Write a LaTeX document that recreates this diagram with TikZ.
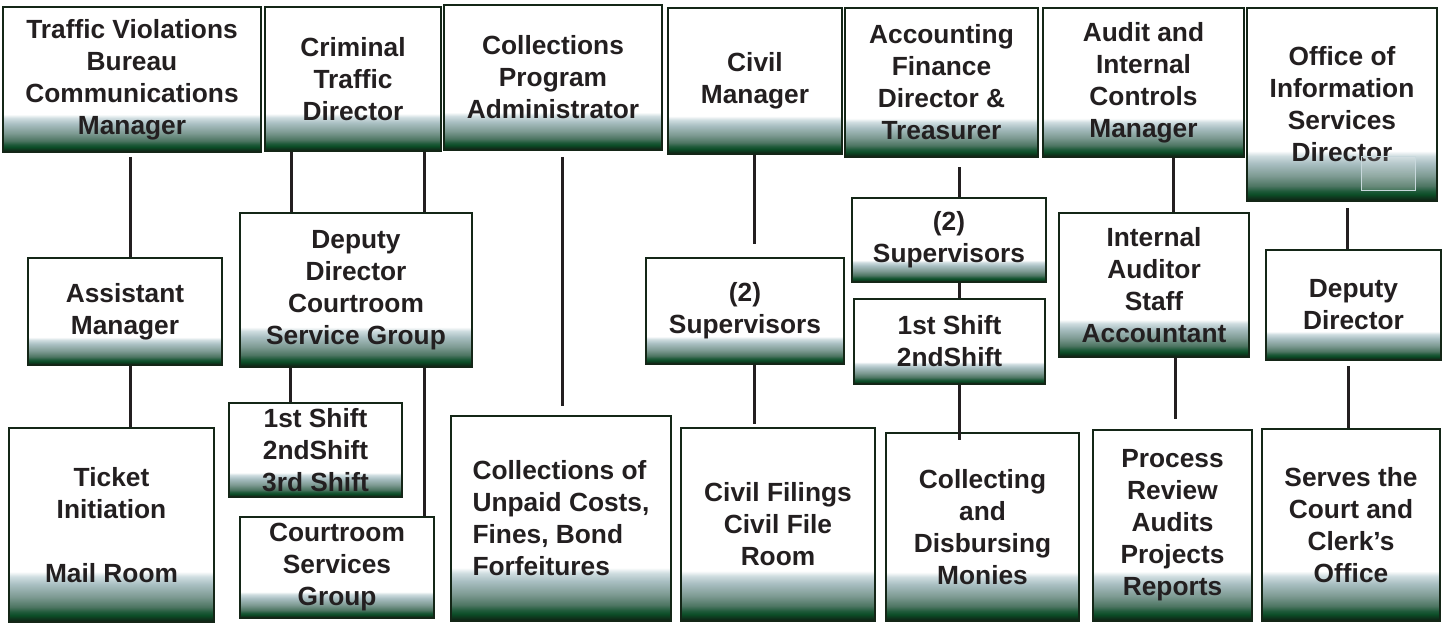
\documentclass[tikz,border=0pt]{standalone}
\usepackage{fontspec}
\setmainfont{Liberation Sans}
\definecolor{inkdark}{HTML}{231F20}
\definecolor{boxedge}{HTML}{142617}
\definecolor{fadebase}{HTML}{0C1F12}
\definecolor{fadedark}{HTML}{0F2E1A}
\definecolor{fadegreen}{HTML}{0B4D27}
\definecolor{fadedeep}{HTML}{1F5A3A}
\definecolor{fademid}{HTML}{4D7562}
\definecolor{fadegrey}{HTML}{7D9A92}
\definecolor{fadeblue}{HTML}{A9BFC2}
\definecolor{fadepale}{HTML}{CFDDE0}
\definecolor{glitch}{HTML}{C8D8DC}
\pgfdeclareverticalshading{boxfade}{100bp}{color(0bp)=(fadebase); color(25bp)=(fadebase);
  color(25.65bp)=(fadedark); color(26.7bp)=(fadegreen); color(27.6bp)=(fadedeep);
  color(28.9bp)=(fademid); color(31.5bp)=(fadegrey); color(34.75bp)=(fadeblue);
  color(36.7bp)=(fadepale); color(38bp)=(white); color(100bp)=(white)}
\tikzstyle{block} = [draw=boxedge, line width=2pt, shading=boxfade, rectangle,
    inner sep=0pt, align=center, text=inkdark,
    font=\bfseries\fontsize{26.3}{32}\selectfont]
\tikzstyle{link} = [draw=inkdark, line width=3pt]

\begin{document}
\begin{tikzpicture}[x=1pt,y=-1pt]
  \useasboundingbox (0,0) rectangle (1443,623);

  % top row
  \node [block, minimum width=258, minimum height=145] (trafmgr) at (132,79.5) {Traffic Violations\\Bureau\\Communications\\Manager};
  \node [block, minimum width=176, minimum height=144] (crimdir) at (353,79) {Criminal\\Traffic\\Director};
  \node [block, minimum width=218, minimum height=145] (colladm) at (553,77.5) {Collections\\Program\\Administrator};
  \node [block, minimum width=174, minimum height=146] (civmgr) at (755,81) {Civil\\Manager};
  \node [block, minimum width=193, minimum height=149] (acctdir) at (941.5,82.5) {Accounting\\Finance\\Director \&\\Treasurer};
  \node [block, minimum width=201, minimum height=149] (auditmgr) at (1143.5,82.5) {Audit and\\Internal\\Controls\\Manager};
  \node [block, minimum width=190, minimum height=193] (infodir) at (1342,104.5) {Office of\\Information\\Services\\Director};
  \draw [glitch, line width=0.6pt, fill=white, fill opacity=0.15] ([xshift=19,yshift=12]infodir.south) rectangle ([xshift=73,yshift=46]infodir.south);

  % middle row
  \node [block, minimum width=194, minimum height=107] (asstmgr) at (125,311.5) {Assistant\\Manager};
  \node [block, minimum width=232, minimum height=154] (crtdep) at (356,290) {Deputy\\Director\\Courtroom\\Service Group};
  \node [block, minimum width=198, minimum height=106] (civsup) at (745,311) {(2)\\Supervisors};
  \node [block, minimum width=194, minimum height=84] (acctsup) at (949,240) {(2)\\Supervisors};
  \node [block, minimum width=191, minimum height=85] (acctshift) at (949.5,341.5) {1st Shift\\2ndShift};
  \node [block, minimum width=190, minimum height=144] (auditor) at (1154,285) {Internal\\Auditor\\Staff\\Accountant};
  \node [block, minimum width=175, minimum height=110] (infodep) at (1353.5,305) {Deputy\\Director};

  % bottom row
  \node [block, minimum width=205, minimum height=194] (ticket) at (111.5,525) {Ticket\\Initiation\\\mbox{}\\Mail Room};
  \node [block, minimum width=173, minimum height=94] (crtshift) at (315.5,450) {1st Shift\\2ndShift\\3rd Shift};
  \node [block, minimum width=194, minimum height=101] (crtgroup) at (337,567.5) {Courtroom\\Services\\Group};
  \node [block, minimum width=220, minimum height=205, align=left] (collunpaid) at (561,518.5) {Collections of\\Unpaid Costs,\\Fines, Bond\\Forfeitures};
  \node [block, minimum width=194, minimum height=193] (civfile) at (778,524.5) {Civil Filings\\Civil File\\Room};
  \node [block, minimum width=193, minimum height=188] (collecting) at (982.5,527) {Collecting\\and\\Disbursing\\Monies};
  \node [block, minimum width=159, minimum height=191] (process) at (1172.5,525.5) {Process\\Review\\Audits\\Projects\\Reports};
  \node [block, minimum width=178, minimum height=192] (serves) at (1351,525) {Serves the\\Court and\\Clerk’s\\Office};

  % connectors
  \draw [link] ([xshift=-2,yshift=-4]trafmgr.south) -- ([xshift=-2]trafmgr.south |- asstmgr.north);
  \draw [link] ([xshift=5]asstmgr.south) -- ([xshift=5]asstmgr.south |- ticket.north);
  \draw [link] ([xshift=-62]crimdir.south) -- ([xshift=-62]crimdir.south |- crtdep.north);
  \draw [link] ([xshift=71]crimdir.south) -- ([xshift=71]crimdir.south |- crtdep.north);
  \draw [link] ([xshift=-66]crtdep.south) -- ([xshift=-66]crtdep.south |- crtshift.north);
  \draw [link] ([xshift=68]crtdep.south) -- ([xshift=68]crtdep.south |- crtgroup.north);
  \draw [link] ([xshift=9,yshift=-6]colladm.south) -- ([xshift=9,yshift=9]colladm.south |- collunpaid.north);
  \draw [link] ([xshift=-1]civmgr.south) -- ([xshift=-1,yshift=13]civmgr.south |- civsup.north);
  \draw [link] ([xshift=9]civsup.south) -- ([xshift=9,yshift=3]civsup.south |- civfile.north);
  \draw [link] ([xshift=17.5,yshift=-9]acctdir.south) -- ([xshift=17.5]acctdir.south |- acctsup.north);
  \draw [link] ([xshift=10]acctsup.south) -- ([xshift=10]acctsup.south |- acctshift.north);
  \draw [link] ([xshift=9.5]acctshift.south) -- ([xshift=9.5,yshift=-8]acctshift.south |- collecting.north);
  \draw [link] ([xshift=29.5]auditmgr.south) -- ([xshift=29.5]auditmgr.south |- auditor.north);
  \draw [link] ([xshift=21]auditor.south) -- ([xshift=21,yshift=10]auditor.south |- process.north);
  \draw [link] ([xshift=5,yshift=-6]infodir.south) -- ([xshift=5]infodir.south |- infodep.north);
  \draw [link] ([xshift=-5.5,yshift=-5]infodep.south) -- ([xshift=-5.5]infodep.south |- serves.north);
\end{tikzpicture}
\end{document}
